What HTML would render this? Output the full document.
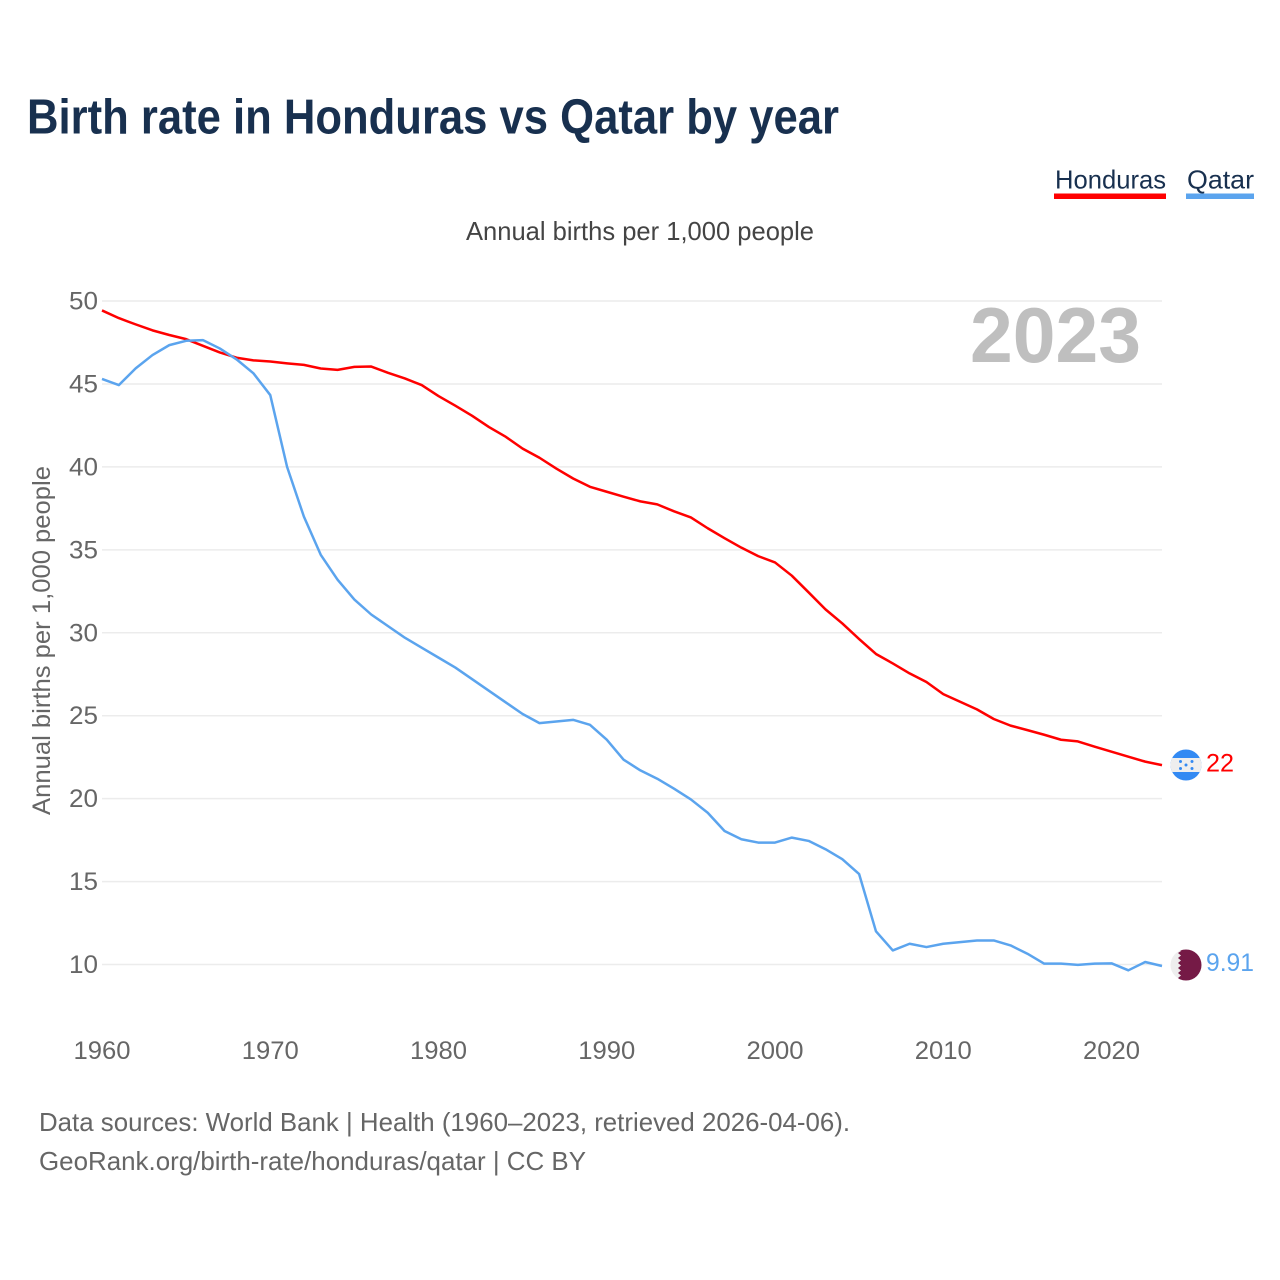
<!DOCTYPE html>
<html lang="en">
<head>
<meta charset="utf-8">
<title>Birth rate in Honduras vs Qatar by year</title>
<style>
  html, body { margin: 0; padding: 0; background: #fff; }
  svg { display: block; font-family: "Liberation Sans", sans-serif; }
</style>
</head>
<body>
<svg id="chart" width="1280" height="1280" viewBox="0 0 1280 1280" xmlns="http://www.w3.org/2000/svg">
  <rect width="1280" height="1280" fill="#ffffff"/>
  <text x="27" y="133.5" font-size="49" font-weight="700" fill="#18304f" textLength="812" lengthAdjust="spacingAndGlyphs">Birth rate in Honduras vs Qatar by year</text>

  <g>
    <text x="1055" y="188.5" font-size="26" fill="#18304f" textLength="111" lengthAdjust="spacingAndGlyphs">Honduras</text>
    <rect x="1054" y="193.5" width="112" height="5.5" fill="#ff0000"/>
  </g>
  <g>
    <text x="1187" y="188.5" font-size="26" fill="#18304f" textLength="67" lengthAdjust="spacingAndGlyphs">Qatar</text>
    <rect x="1186" y="193.5" width="68" height="5.5" fill="#5ba4ee"/>
  </g>

  <text x="466" y="240" font-size="26" fill="#444444" textLength="348" lengthAdjust="spacingAndGlyphs">Annual births per 1,000 people</text>

  <g id="grid"></g>
  <g id="yticks"></g>
  <g id="xticks"></g>

  <text transform="translate(50,815) rotate(-90)" x="0" y="0" font-size="25" fill="#666666" textLength="349" lengthAdjust="spacingAndGlyphs">Annual births per 1,000 people</text>

  <text x="970" y="362" font-size="78" font-weight="700" fill="#bfbfbf" textLength="171" lengthAdjust="spacingAndGlyphs">2023</text>

  <polyline id="line-honduras" fill="none" stroke="#ff0000" stroke-width="2.5" stroke-linejoin="round"/>
  <polyline id="line-qatar" fill="none" stroke="#5ba4ee" stroke-width="2.5" stroke-linejoin="round"/>

  <defs>
    <clipPath id="clip-hn"><circle cx="1186" cy="765" r="15.5"/></clipPath>
    <clipPath id="clip-qa"><circle cx="1186" cy="965" r="15.5"/></clipPath>
  </defs>
  <g clip-path="url(#clip-hn)">
    <rect x="1170" y="749" width="32" height="32" fill="#338af3"/>
    <rect x="1170" y="758" width="32" height="14" fill="#eeeeee"/>
    <circle cx="1180.5" cy="761.5" r="1.5" fill="#338af3"/>
    <circle cx="1192" cy="761.5" r="1.5" fill="#338af3"/>
    <circle cx="1186" cy="765" r="1.5" fill="#338af3"/>
    <circle cx="1180.5" cy="768.5" r="1.5" fill="#338af3"/>
    <circle cx="1192" cy="768.5" r="1.5" fill="#338af3"/>
  </g>
  <g clip-path="url(#clip-qa)">
    <rect x="1170" y="949" width="32" height="32" fill="#eeeeee"/>
    <polygon fill="#751a46" points="1202,949 1178,949 1181,951 1178,953 1181,955.5 1178,958 1181,960.5 1178,963 1181,965.5 1178,968 1181,970.5 1178,973 1181,975.5 1178,978 1181,981 1202,981"/>
  </g>

  <text x="1206" y="771.5" font-size="25" fill="#ff0000" textLength="28" lengthAdjust="spacingAndGlyphs">22</text>
  <text x="1206" y="971" font-size="25" fill="#5ba4ee" textLength="48" lengthAdjust="spacingAndGlyphs">9.91</text>

  <text x="39" y="1131" font-size="26" fill="#666666" textLength="811" lengthAdjust="spacingAndGlyphs">Data sources: World Bank | Health (1960–2023, retrieved 2026-04-06).</text>
  <text x="39" y="1170" font-size="26" fill="#666666" textLength="547" lengthAdjust="spacingAndGlyphs">GeoRank.org/birth-rate/honduras/qatar | CC BY</text>
</svg>
<script>
const years = [1960,1961,1962,1963,1964,1965,1966,1967,1968,1969,1970,1971,1972,1973,1974,1975,1976,1977,1978,1979,1980,1981,1982,1983,1984,1985,1986,1987,1988,1989,1990,1991,1992,1993,1994,1995,1996,1997,1998,1999,2000,2001,2002,2003,2004,2005,2006,2007,2008,2009,2010,2011,2012,2013,2014,2015,2016,2017,2018,2019,2020,2021,2022,2023];
const honduras = [49.43,48.97,48.59,48.23,47.95,47.7,47.3,46.9,46.58,46.42,46.35,46.24,46.15,45.93,45.85,46.03,46.05,45.67,45.33,44.93,44.27,43.69,43.08,42.4,41.81,41.1,40.55,39.9,39.3,38.8,38.5,38.2,37.92,37.74,37.32,36.95,36.3,35.7,35.13,34.62,34.24,33.44,32.43,31.41,30.56,29.62,28.72,28.15,27.55,27.03,26.3,25.84,25.38,24.8,24.4,24.13,23.85,23.55,23.45,23.13,22.83,22.53,22.23,22.02];
const qatar = [45.3,44.93,45.94,46.74,47.34,47.6,47.64,47.14,46.48,45.64,44.33,40.0,37.0,34.7,33.2,32.0,31.1,30.4,29.7,29.1,28.5,27.9,27.2,26.5,25.8,25.1,24.55,24.65,24.75,24.45,23.55,22.35,21.7,21.2,20.6,19.95,19.15,18.05,17.55,17.35,17.35,17.65,17.45,16.95,16.35,15.45,12.0,10.85,11.25,11.05,11.25,11.35,11.45,11.45,11.15,10.65,10.05,10.05,9.98,10.05,10.07,9.65,10.15,9.91];
const yTicks = [10,15,20,25,30,35,40,45,50];
const xTicks = [1960,1970,1980,1990,2000,2010,2020];

const NS = 'http://www.w3.org/2000/svg';
function xScale(year) { return 102 + (year - 1960) * (1162 - 102) / (2023 - 1960); }
function yScale(value) { return 964.5 - (value - 10) * (964.5 - 301) / (50 - 10); }

const grid = document.getElementById('grid');
const yGroup = document.getElementById('yticks');
const xGroup = document.getElementById('xticks');

yTicks.forEach(function (t) {
  const line = document.createElementNS(NS, 'line');
  line.setAttribute('x1', xScale(1960));
  line.setAttribute('x2', xScale(2023));
  line.setAttribute('y1', yScale(t));
  line.setAttribute('y2', yScale(t));
  line.setAttribute('stroke', '#ececec');
  line.setAttribute('stroke-width', '1.5');
  
  
  grid.appendChild(line);

  const label = document.createElementNS(NS, 'text');
  label.setAttribute('x', 98);
  label.setAttribute('y', yScale(t) + 8.5);
  label.setAttribute('text-anchor', 'end');
  label.setAttribute('font-size', '25');
  label.setAttribute('fill', '#666666');
  label.setAttribute('textLength', '29');
  label.setAttribute('lengthAdjust', 'spacingAndGlyphs');
  label.textContent = t;
  
  
  yGroup.appendChild(label);
});

xTicks.forEach(function (t) {
  const label = document.createElementNS(NS, 'text');
  label.setAttribute('x', xScale(t));
  label.setAttribute('y', 1059);
  label.setAttribute('text-anchor', 'middle');
  label.setAttribute('font-size', '25');
  label.setAttribute('fill', '#666666');
  label.setAttribute('textLength', '57');
  label.setAttribute('lengthAdjust', 'spacingAndGlyphs');
  label.textContent = t;
  
  
  xGroup.appendChild(label);
});

function toPoints(values) {
  return values.map(function (v, i) {
    return xScale(years[i]).toFixed(2) + ',' + yScale(v).toFixed(2);
  }).join(' ');
}
document.getElementById('line-honduras').setAttribute('points', toPoints(honduras));
document.getElementById('line-qatar').setAttribute('points', toPoints(qatar));
</script>
</body>
</html>
